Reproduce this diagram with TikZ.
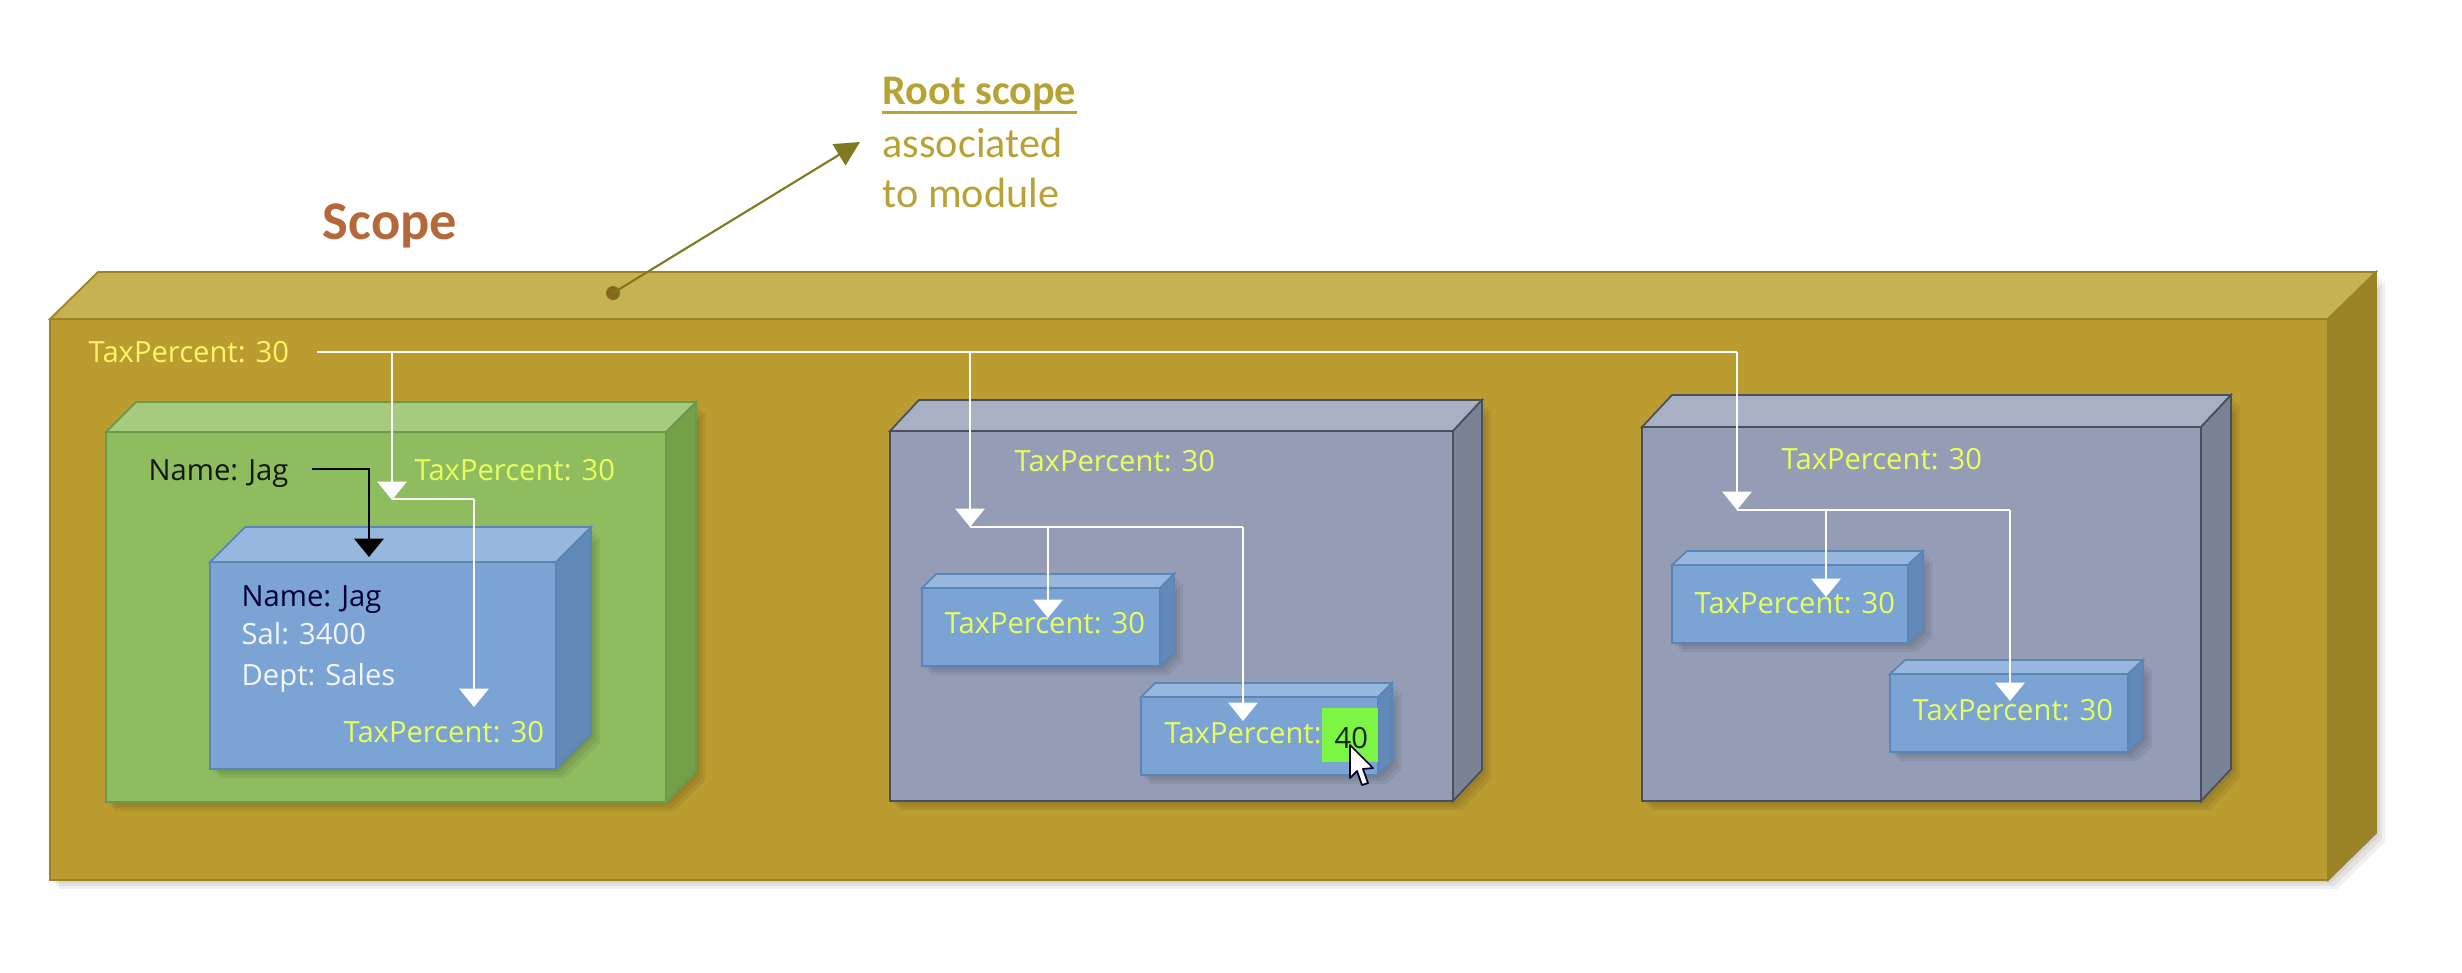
\documentclass[tikz,border=0pt]{standalone}
\usepackage{fontspec}
\setmainfont{Open Sans}
\newfontfamily\headfont{Carlito}
\usepackage{tikz}
\usetikzlibrary{arrows.meta,positioning,calc}
\usepackage{xcolor}
\definecolor{RootFront}{HTML}{BA9C30}
\definecolor{RootTop}{HTML}{C6B252}
\definecolor{RootSide}{HTML}{9A8226}
\definecolor{RootEdge}{HTML}{9A8426}
\definecolor{LeafFront}{HTML}{8FBC5F}
\definecolor{LeafTop}{HTML}{A6CB7E}
\definecolor{LeafSide}{HTML}{75A04A}
\definecolor{LeafEdge}{HTML}{6C9A48}
\definecolor{BlueFront}{HTML}{7BA3D4}
\definecolor{BlueTop}{HTML}{97B7DE}
\definecolor{BlueSide}{HTML}{6389B8}
\definecolor{BlueEdge}{HTML}{5A85B5}
\definecolor{SlateFront}{HTML}{949DB5}
\definecolor{SlateTop}{HTML}{A8B1C4}
\definecolor{SlateSide}{HTML}{7A8296}
\definecolor{SlateEdge}{HTML}{4A4F60}
\definecolor{ScopeBrown}{HTML}{B5693A}
\definecolor{NoteGold}{HTML}{B9A234}
\definecolor{PointerOlive}{HTML}{7F7A20}
\definecolor{DotBrown}{HTML}{856A1E}
\definecolor{RootText}{HTML}{FFF566}
\definecolor{LimeText}{HTML}{E9FF5C}
\definecolor{EditGreen}{HTML}{7DF544}
\tikzset{
  boxface/.style={inner sep=0pt,outer sep=0pt,line width=0.5pt},
  label/.style={anchor=west,inner sep=0pt,font=\fontsize{8.3}{10}\selectfont,text height=7pt,text depth=1pt},
  taxlabel/.style={label,text=LimeText},
  note/.style={anchor=west,inner sep=0pt,text=NoteGold,font=\headfont\fontsize{12}{14}\selectfont},
  wire/.style={draw=white,line width=0.65pt},
  flow/.style={wire,-{Triangle[width=8.3pt,length=5.2pt]}},
  flowdark/.style={draw=black,line width=0.65pt,-{Triangle[width=8.3pt,length=5.2pt]}},
}
% name, left, top, right, bottom, depth x, depth y, palette
\newcommand{\solidbox}[8]{
  \foreach \s in {3,6,9}{
    \fill[black,opacity=0.06] (#2+\s,#3+\s) -- (#4+\s,#3+\s) -- (#4+#6+\s,#3-#7+\s) -- (#4+#6+\s,#5-#7+\s) -- (#4+\s,#5+\s) -- (#2+\s,#5+\s) -- cycle;
  }
  \node[boxface,draw=#8Edge,fill=#8Front,anchor=north west,minimum width={(#4-#2)*0.01cm},minimum height={(#5-#3)*0.01cm}] (#1) at (#2,#3) {};
  \filldraw[boxface,draw=#8Edge,fill=#8Top] (#1.north west) -- ++(#6,-#7) -- ++(#4-#2,0) -- (#1.north east) -- cycle;
  \filldraw[boxface,draw=#8Edge,fill=#8Side] (#1.north east) -- ++(#6,-#7) -- ++(0,#5-#3) -- (#1.south east) -- cycle;
}
\begin{document}
\begin{tikzpicture}[x=0.01cm,y=-0.01cm]
  \useasboundingbox (0,0) rectangle (2462,972);

  % boxes
  \solidbox{rootBox}{50}{319}{2328}{880}{48}{47}{Root}
  \solidbox{leftBox}{106}{432}{666}{802}{30}{30}{Leaf}
  \solidbox{empBox}{210}{562}{556}{769}{35}{35}{Blue}
  \solidbox{midBox}{890}{431}{1453}{801}{29}{31}{Slate}
  \solidbox{midSmallA}{922}{588}{1160}{666}{14}{14}{Blue}
  \solidbox{midSmallB}{1141}{697}{1378}{775}{14}{14}{Blue}
  \solidbox{rightBox}{1642}{427}{2201}{801}{30}{32}{Slate}
  \solidbox{rightSmallA}{1672}{565}{1908}{643}{15}{14}{Blue}
  \solidbox{rightSmallB}{1890}{674}{2128}{752}{15}{14}{Blue}

  % free ends of the connectors
  \coordinate (rootStart) at (317,352);
  \coordinate (rootEnd) at (1737,352);
  \coordinate (dropLeft) at (392,352);
  \coordinate (dropMid) at (970,352);
  \coordinate (hitLeft) at (392,500);
  \coordinate (hitMid) at (970,527);
  \coordinate (hitRight) at (1737,510);
  \coordinate (elbowLeft) at (474,499);
  \coordinate (elbowMid) at (1243,527);
  \coordinate (elbowRight) at (2010,510);
  \coordinate (branchMid) at (1048,527);
  \coordinate (branchRight) at (1826,510);
  \coordinate (tipEmp) at (474,707);
  \coordinate (tipMidA) at (1048,618);
  \coordinate (tipMidB) at (1243,721);
  \coordinate (tipRightA) at (1826,597);
  \coordinate (tipRightB) at (2010,701);
  \coordinate (nameStart) at (312,469);
  \coordinate (nameTip) at (369,557);
  \coordinate (dotStart) at (613,293);
  \coordinate (noteTip) at (860,142);

  % white inheritance lines
  \draw[wire] (rootStart) -- (rootEnd);
  \draw[flow] (dropLeft) -- (hitLeft);
  \draw[flow] (dropMid) -- (hitMid);
  \draw[flow] (rootEnd) -- (hitRight);
  \draw[wire] (hitLeft |- elbowLeft) -- (elbowLeft);
  \draw[wire] (hitMid) -- (elbowMid);
  \draw[wire] (hitRight) -- (elbowRight);
  \draw[flow] (elbowLeft) -- (tipEmp);
  \draw[flow] (branchMid) -- (tipMidA);
  \draw[flow] (elbowMid) -- (tipMidB);
  \draw[flow] (branchRight) -- (tipRightA);
  \draw[flow] (elbowRight) -- (tipRightB);
  \draw[flowdark] (nameStart) -| (nameTip);

  % pointer to the note
  \fill[DotBrown] (dotStart) circle (7);
  \draw[PointerOlive,line width=0.6pt,-{Triangle[width=7pt,length=7pt]}] (dotStart) -- (noteTip);

  % texts
  \node[anchor=west,inner sep=0pt,text=ScopeBrown,font=\headfont\bfseries\fontsize{15.5}{18}\selectfont] (scopeTitle) at (322,226) {Scope};
  \node[note,font=\headfont\bfseries\fontsize{12}{14}\selectfont] (noteHead) at (882,94) {Root scope};
  \draw[NoteGold,line width=0.8pt] ($(noteHead.base west)+(0,8)$) -- ($(noteHead.base east)+(0,8)$);
  \node[note] (noteA) at (882,143) {associated};
  \node[note] (noteB) at (882,193) {to module};
  \node[label,text=RootText] (rootTax) at (88,352) {TaxPercent: 30};
  \node[label,text=black!85!LeafEdge] (leftName) at (148,470) {Name: Jag};
  \node[taxlabel] (leftTax) at (414,470) {TaxPercent: 30};
  \node[label,text=black!80!blue] (empName) at (241,596) {Name: Jag};
  \node[label,text=white!90!BlueFront] (empSal) at (241,634) {Sal: 3400};
  \node[label,text=white!90!BlueFront] (empDept) at (241,675) {Dept: Sales};
  \node[taxlabel] (empTax) at (343,732) {TaxPercent: 30};
  \node[taxlabel] (midTax) at (1014,461) {TaxPercent: 30};
  \node[taxlabel] (midTaxA) at (944,623) {TaxPercent: 30};
  \node[taxlabel] (midTaxB) at (1164,733) {TaxPercent:};
  \node[inner sep=0pt,fill=EditGreen,anchor=north west,minimum width=0.56cm,minimum height=0.54cm] (editCell) at (1321,707) {};
  \node[label,text=black!85!EditGreen] (editValue) at (1334,738) {40};
  \node[taxlabel] (rightTax) at (1781,459) {TaxPercent: 30};
  \node[taxlabel] (rightTaxA) at (1694,603) {TaxPercent: 30};
  \node[taxlabel] (rightTaxB) at (1912,710) {TaxPercent: 30};

  % mouse pointer
  \filldraw[fill=white,draw=black!85!blue,line width=0.5pt,line join=round] (1350,745) -- (1350,778) -- (1357,771) -- (1362,785) -- (1368,783) -- (1363,769) -- (1373,768) -- cycle;
\end{tikzpicture}
\end{document}
